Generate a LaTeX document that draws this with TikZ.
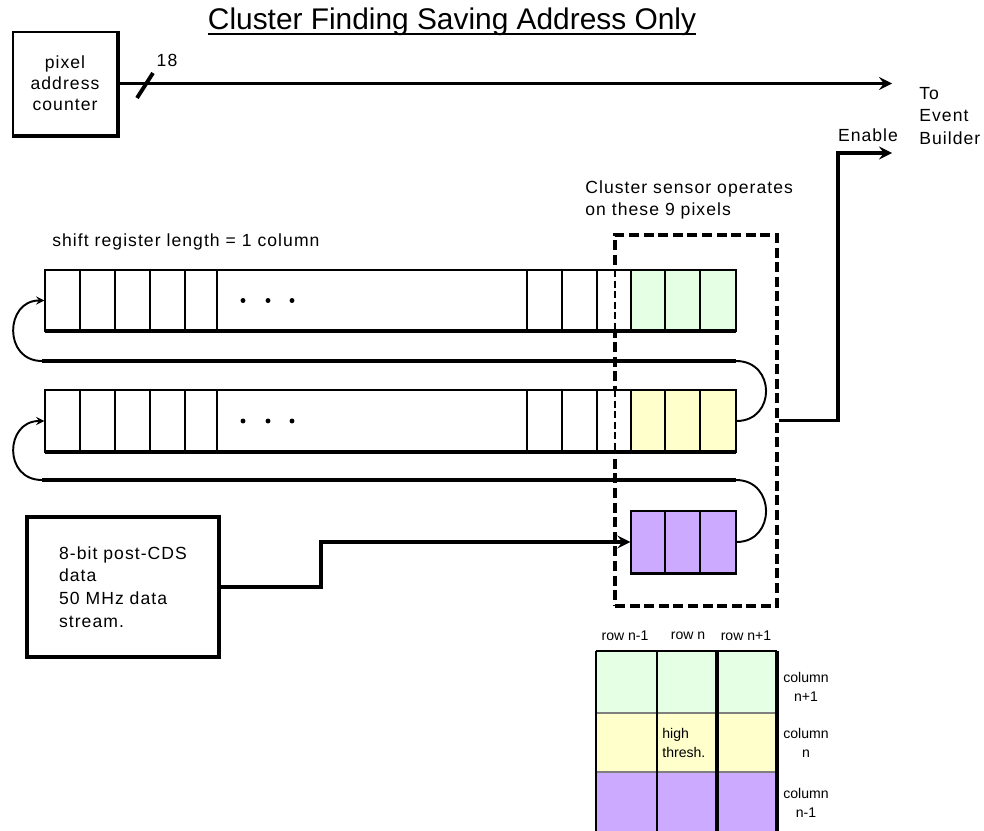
\documentclass[tikz,border=0pt]{standalone}
\usepackage{fontspec}
\setmainfont{Liberation Sans}
\newfontfamily\spacedsans{Liberation Sans}[LetterSpace=6]
\usetikzlibrary{positioning}

\definecolor{pixgreen}{RGB}{229,255,229}
\definecolor{pixyellow}{RGB}{255,255,204}
\definecolor{pixpurple}{RGB}{204,170,255}

\tikzset{
  bus/.style={line width=2.2pt},
  loopline/.style={line width=1.1pt},
  cellline/.style={line width=0.7pt},
  txt/.style={font=\spacedsans\fontsize{10}{13}\selectfont, inner sep=0pt, align=left},
  smalltxt/.style={font=\fontsize{8}{11}\selectfont, inner sep=0pt, align=center},
  regbox/.style={draw, line width=0.7pt, fill=white, inner sep=0pt, minimum height=1.22cm},
}

\begin{document}
\begin{tikzpicture}[x=0.02cm, y=-0.02cm, >=stealth]
    \useasboundingbox (0,0) rectangle (984,831);

    % Title
    \node[font=\fontsize{17}{20}\selectfont, inner sep=0pt] (head) at (452,22) {Cluster Finding Saving Address Only};
    \draw[line width=0.9pt] ([yshift=-2.5pt]head.base west) -- ([yshift=-2.5pt]head.base east);

    % Address counter
    \node[draw, line width=0.8pt, minimum width=2.08cm, minimum height=2.06cm, txt, align=center,
          font=\spacedsans\fontsize{10}{12}\selectfont] (ctr) at (65,83.5) {pixel\\address\\counter};
    \draw[bus] (ctr.south west) -- (ctr.south east) -- (ctr.north east);
    \coordinate (toeb) at (892,83.5);
    \draw[bus,->] (ctr.east) -- (toeb);
    \draw[bus] (137,98) -- (153,73);
    \node[txt] (bits) at (167,60) {18};
    \node[txt, anchor=west] (eb) at (919,116) {To\\Event\\Builder};
    \node[txt] (enl) at (868,135) {Enable};

    % Cluster window
    \node[draw, line width=2.2pt, dash pattern=on 5.7pt off 2.6pt, minimum width=3.24cm,
          minimum height=7.42cm] (cluster) at (696,420.5) {};
    \node[txt, anchor=west] (cltxt) at (585,200) {Cluster sensor operates\\on these 9 pixels};
    \node[txt, anchor=west] (srtxt) at (52,242) {shift register length = 1 column};

    % Shift registers
    \node[regbox, minimum width=13.82cm] (reg1) at (390.5,300.5) {};
    \node[regbox, minimum width=13.82cm, minimum height=1.24cm] (reg2) at (390.5,421) {};
    \node[regbox, minimum width=2.1cm, minimum height=1.24cm, fill=pixpurple] (reg3) at (683.5,542) {};
    \foreach \t/\b/\c in {270/331/pixgreen, 390/452/pixyellow} {
        \fill[\c] (631,\t) rectangle (736,\b);
        \draw[cellline] (631,\t) rectangle (736,\b);
        \foreach \x in {80,115,150,217,562,597,665,700}
            \draw[cellline] (\x,\t) -- (\x,\b);
        \foreach \x in {185,527}
            \draw[line width=1.2pt] (\x,\t) -- (\x,\b);
        \draw[line width=1.8pt] (45,\b) -- (736,\b);
        \draw[cellline, dash pattern=on 4pt off 2pt] (615,\t) -- (615,\b);
        \foreach \x in {243,268,292}
            \fill (\x,{(\t+\b)/2}) circle (1.4pt);
    }
    \foreach \x in {665,700}
        \draw[cellline] (\x,511) -- (\x,573);
    \draw[line width=1.8pt] (reg3.south west) -- (reg3.south east);

    % Return paths
    \coordinate (ret1w) at (42,361);
    \coordinate (ret1e) at (736,361);
    \coordinate (ret2w) at (42,480);
    \coordinate (ret2e) at (736,480);
    \draw[bus] (ret1w) -- (ret1e);
    \draw[bus] (ret2w) -- (ret2e);
    \draw[loopline] (ret1e) .. controls (776,361) and (776,421) .. (reg2.east);
    \draw[loopline] (ret2e) .. controls (776,480) and (776,542) .. (reg3.east);
    \draw[loopline,->] (ret1w) .. controls (3,361) and (5,300.5) .. (reg1.west);
    \draw[loopline,->] (ret2w) .. controls (3,480) and (5,421) .. (reg2.west);

    % Data input
    \node[draw, line width=2.2pt, minimum width=3.84cm, minimum height=2.8cm, txt] (data) at (123,587)
        {8-bit post-CDS\\data\\50 MHz data\\stream.};
    \draw[bus,->] (data.east) -- (321,587) |- (reg3.west);

    % Enable
    \coordinate (en) at (892,153);
    \draw[bus,->] (cluster.east) -- (838,420.5) |- (en);

    % Pixel map
    \foreach \t/\b/\c in {651/713/pixgreen, 713/772/pixyellow, 772/831/pixpurple}
        \fill[\c] (596,\t) rectangle (777,\b);
    \foreach \y in {713,772}
        \draw[cellline, gray] (596,\y) -- (777,\y);
    \draw[line width=1.2pt] (596,651) -- (777,651);
    \draw[cellline] (596,651) -- (596,831);
    \draw[line width=1pt] (657,651) -- (657,831);
    \draw[line width=1.8pt] (717,651) -- (717,831) (777,651) -- (777,831);
    \node[smalltxt] (rowa) at (625,636) {row n-1};
    \node[smalltxt] (rowb) at (688,636) {row n};
    \node[smalltxt] (rowc) at (746,636) {row n+1};
    \node[smalltxt] (cola) at (806,687) {column\\n+1};
    \node[smalltxt] (colb) at (806,743) {column\\n};
    \node[smalltxt] (colc) at (806,803) {column\\n-1};
    \node[smalltxt, align=left, anchor=west] (hi) at (662,743) {high\\thresh.};
\end{tikzpicture}
\end{document}
